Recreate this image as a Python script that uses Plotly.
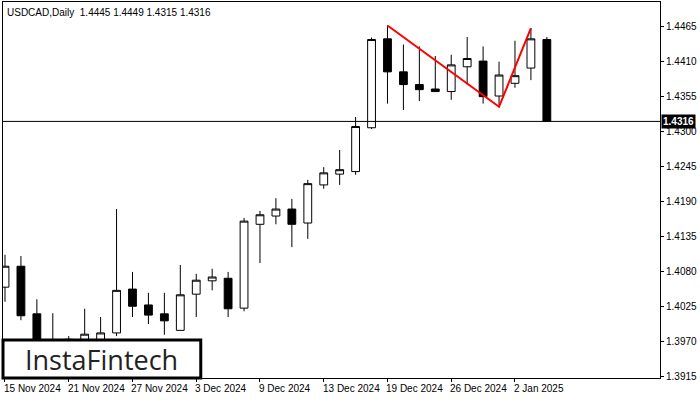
import plotly.graph_objects as go

# daily candles, 15 Nov 2024 .. 6 Jan 2025
dates = ['15 Nov', '18 Nov', '19 Nov', '20 Nov', '21 Nov', '22 Nov', '25 Nov', '26 Nov',
         '27 Nov', '28 Nov', '29 Nov', '2 Dec', '3 Dec', '4 Dec', '5 Dec', '6 Dec',
         '9 Dec', '10 Dec', '11 Dec', '12 Dec', '13 Dec', '16 Dec', '17 Dec', '18 Dec',
         '19 Dec', '20 Dec', '23 Dec', '24 Dec', '26 Dec', '27 Dec', '30 Dec', '31 Dec',
         '2 Jan', '3 Jan', '6 Jan']
opens = [1.4055, 1.4088, 1.4013, 1.3968, 1.3973, 1.3965, 1.3968, 1.3983, 1.4052, 1.4027,
         1.4013, 1.3987, 1.4044, 1.4065, 1.4069, 1.4022, 1.4154, 1.4167, 1.4178, 1.4156,
         1.4216, 1.4233, 1.4237, 1.4306, 1.4446, 1.4394, 1.4374, 1.4367, 1.4363, 1.4402,
         1.4411, 1.4356, 1.4376, 1.4400, 1.4445]
highs = [1.4106, 1.4104, 1.4036, 1.4014, 1.3978, 1.4021, 1.4008, 1.4178, 1.4079, 1.4046,
         1.4046, 1.4090, 1.4076, 1.4084, 1.4079, 1.4164, 1.4175, 1.4195, 1.4194, 1.4224,
         1.4244, 1.4271, 1.4323, 1.4448, 1.4467, 1.4437, 1.4434, 1.4419, 1.4421, 1.4449,
         1.4434, 1.4410, 1.4443, 1.4463, 1.4449]
lows = [1.4032, 1.4003, 1.3945, 1.3945, 1.3950, 1.3958, 1.3960, 1.3978, 1.4008, 1.3997,
        1.3980, 1.3987, 1.4008, 1.4050, 1.4008, 1.4017, 1.4093, 1.4154, 1.4118, 1.4131,
        1.4210, 1.4216, 1.4232, 1.4304, 1.4344, 1.4334, 1.4348, 1.4363, 1.4350, 1.4374,
        1.4344, 1.4341, 1.4369, 1.4381, 1.4315]
closes = [1.4088, 1.4010, 1.3960, 1.3972, 1.3970, 1.3981, 1.3983, 1.4050, 1.4025, 1.4011,
          1.4002, 1.4043, 1.4066, 1.4071, 1.4021, 1.4159, 1.4169, 1.4178, 1.4154, 1.4218,
          1.4235, 1.4240, 1.4308, 1.4445, 1.4394, 1.4374, 1.4366, 1.4363, 1.4405, 1.4415,
          1.4355, 1.4389, 1.4388, 1.4446, 1.4316]

# pattern line: top, trough, top
pattern_idx = [24, 31, 33]
pattern_px = [1.4467, 1.4339, 1.4463]
last_price = 1.4316

xlabels = ['15 Nov 2024', '21 Nov 2024', '27 Nov 2024', '3 Dec 2024', '9 Dec 2024',
           '13 Dec 2024', '19 Dec 2024', '26 Dec 2024', '2 Jan 2025']
xlabel_idx = [dates.index(d) for d in ['15 Nov', '21 Nov', '27 Nov', '3 Dec', '9 Dec',
                                       '13 Dec', '19 Dec', '26 Dec', '2 Jan']]
yticks = [1.4465, 1.4410, 1.4355, 1.4300, 1.4245, 1.4190, 1.4135, 1.4080, 1.4025, 1.3970, 1.3915]

FONT = 'Liberation Sans'
idx = list(range(len(dates)))
fig = go.Figure()

fig.add_trace(go.Candlestick(
  x=idx, open=opens, high=highs, low=lows, close=closes,
  increasing=dict(line=dict(color='black', width=1), fillcolor='white'),
  decreasing=dict(line=dict(color='black', width=1), fillcolor='black'),
  whiskerwidth=0, showlegend=False, hoverinfo='skip'
))

fig.add_trace(go.Scatter(
  x=pattern_idx, y=pattern_px, mode='lines',
  line=dict(color='#ff0000', width=2), showlegend=False, hoverinfo='skip'
))

fig.add_hline(y=last_price, line=dict(color='black', width=1))

fig.add_annotation(
  x=1, xref='paper', y=last_price, yref='y', xanchor='left', yanchor='middle', xshift=1,
  text=f'<b>{last_price:.4f}</b>', showarrow=False, bgcolor='black', borderpad=1,
  font=dict(color='white', size=10, family=FONT)
)

fig.add_annotation(
  x=0, xref='paper', y=1, yref='paper', xanchor='left', yanchor='top', xshift=2, yshift=-3,
  text='USDCAD,Daily  1.4445 1.4449 1.4315 1.4316', showarrow=False,
  font=dict(color='black', size=10, family=FONT)
)

# x labels start at their tick, like the terminal draws them
for i, lab in zip(xlabel_idx, xlabels):
  fig.add_annotation(
    x=i, xref='x', y=0, yref='paper', xanchor='left', yanchor='top', yshift=-3, xshift=-3,
    text=lab, showarrow=False, font=dict(color='black', size=10, family=FONT)
  )

# logo
fig.add_shape(type='rect', xref='paper', yref='paper', x0=0.0, x1=0.301, y0=0.0, y1=0.101,
              line=dict(color='black', width=3), fillcolor='white')
fig.add_annotation(
  x=0.15, xref='paper', y=0.05, yref='paper', xanchor='center', yanchor='middle',
  text='InstaFintech', showarrow=False,
  font=dict(color='#222222', size=27, family='Open Sans')
)

fig.update_layout(
  width=700, height=400,
  plot_bgcolor='white', paper_bgcolor='white',
  margin=dict(l=3, r=40, t=2, b=22, autoexpand=False),
  font=dict(family=FONT, size=10, color='black'),
  xaxis=dict(
    range=[-0.125, 41.1], rangeslider=dict(visible=False), automargin=False,
    tickmode='array', tickvals=xlabel_idx, showticklabels=False,
    ticks='outside', ticklen=3, tickcolor='black',
    showgrid=False, zeroline=False, showline=True, linecolor='black', mirror=True
  ),
  yaxis=dict(
    range=[1.3912, 1.4504], side='right', automargin=False,
    tickmode='array', tickvals=yticks, ticktext=[f'{v:.4f}' for v in yticks],
    ticks='outside', ticklen=3, tickcolor='black',
    showgrid=False, zeroline=False, showline=True, linecolor='black', mirror=True
  )
)

fig.write_html(
  "out.html",
  config=dict(displayModeBar=False),
  post_script="document.body.style.margin='0';"
)
